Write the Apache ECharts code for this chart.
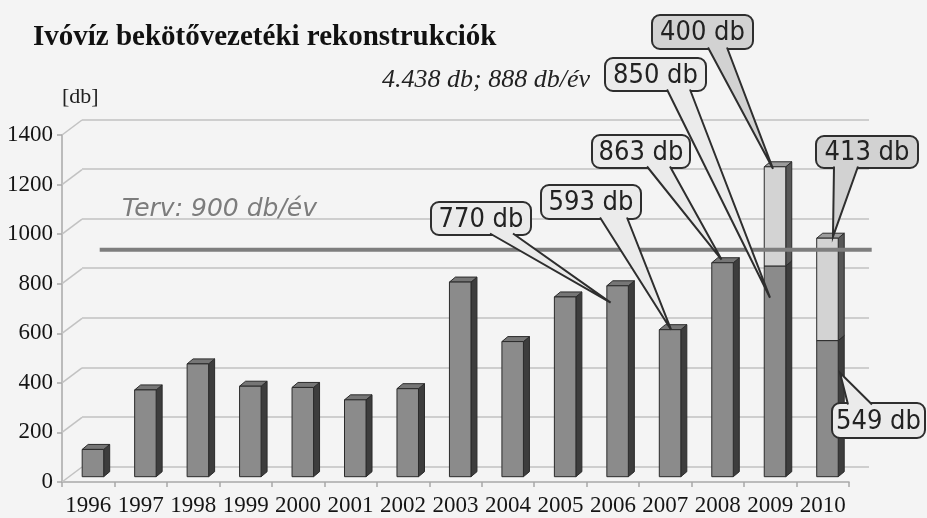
<!DOCTYPE html>
<html><head><meta charset="utf-8">
<script src="https://cdn.jsdelivr.net/npm/echarts@6/dist/echarts.min.js"></script>
<style>html,body{margin:0;padding:0;background:#f4f4f4}#c{width:927px;height:518px}</style>
</head><body><div id="c"></div>
<script>
// ---------- data ----------
const years = ['1996','1997','1998','1999','2000','2001','2002','2003','2004','2005','2006','2007','2008','2009','2010'];
const baseValues = [110, 350, 455, 365, 360, 310, 355, 785, 545, 725, 770, 593, 863, 850, 549];
const extraValues = [null, null, null, null, null, null, null, null, null, null, null, null, null, 400, 413];
const yTicks = [0, 200, 400, 600, 800, 1000, 1200, 1400];
const planValue = 915;
const planLabel = 'Terv: 900 db/év';
const titleText = 'Ivóvíz bekötővezetéki rekonstrukciók';
const subtitleText = '4.438 db; 888 db/év';
const unitText = '[db]';

// ---------- callout layout (annotation positions, not data) ----------
const callouts = [
  {year:'2006', part:'base',  tipValue:702,  tipShift:-7,   box:[431,202,100,33], join:[59,82], side:'bottom', dark:false},
  {year:'2007', part:'base',  tipValue:593,  tipShift:1,    box:[541,185,100,34], join:[59,86], side:'bottom', dark:false},
  {year:'2008', part:'base',  tipValue:876,  tipShift:-1,   box:[592,135,98,33],  join:[55,78], side:'bottom', dark:false},
  {year:'2009', part:'base',  tipValue:722,  tipShift:-5,   box:[605,58,101,33],  join:[62,85], side:'bottom', dark:false},
  {year:'2009', part:'extra', tipValue:1242, tipShift:-2,   box:[652,15,101,34],  join:[56,75], side:'bottom', dark:true},
  {year:'2010', part:'extra', tipValue:968,  tipShift:5.5,  box:[816,136,102,32], join:[18,42], side:'bottom', dark:true},
  {year:'2010', part:'base',  tipValue:419,  tipShift:12.5, box:[832,403,93,35],  join:[16,40], side:'top',    dark:false}
];

// ---------- build ----------
const barItems = [];
baseValues.forEach((v,i)=>{ barItems.push([i, 0, v, 0]); });
extraValues.forEach((v,i)=>{ if (v != null) barItems.push([i, baseValues[i], baseValues[i]+v, 1]); });

const faceColors = [
  {front:'#8b8b8b', side:'#3d3d3d', top:'#767676'},
  {front:'#d3d3d3', side:'#575757', top:'#9c9c9c'}
];
const DX = 6, DY = 5;

function renderBar(params, api){
  const i = api.value(0), b = api.value(1), t = api.value(2), seg = api.value(3);
  const p0 = api.coord([i, b]), p1 = api.coord([i, t]);
  const band = api.size([1,0])[0];
  const w = band*0.41;
  const xl = p0[0]-w/2, xr = p0[0]+w/2;
  const c = faceColors[seg];
  const stroke = '#2b2b2b';
  return {type:'group', children:[
    {type:'polygon', shape:{points:[[xr,p1[1]],[xr+DX,p1[1]-DY],[xr+DX,p0[1]-DY],[xr,p0[1]]]}, style:{fill:c.side, stroke:stroke, lineWidth:1}},
    {type:'polygon', shape:{points:[[xl,p1[1]],[xl+DX,p1[1]-DY],[xr+DX,p1[1]-DY],[xr,p1[1]]]}, style:{fill:c.top, stroke:stroke, lineWidth:1}},
    {type:'rect', shape:{x:xl, y:p1[1], width:w, height:p0[1]-p1[1]}, style:{fill:c.front, stroke:stroke, lineWidth:1}}
  ]};
}

function renderPlan(params, api){
  const v = api.value(1);
  const band = api.size([1,0])[0];
  const a = api.coord([0, v]), z = api.coord([years.length-1, v]);
  return {type:'line', shape:{x1:a[0]-band/2+33, y1:a[1], x2:z[0]+band/2+18, y2:a[1]}, style:{stroke:'#7e7e7e', lineWidth:4}};
}

function renderDiag(params, api){
  const v = api.value(1);
  const p = api.coord([0, v]);
  const x0 = p[0]-api.size([1,0])[0]/2;
  return {type:'line', shape:{x1:x0, y1:p[1], x2:x0+20, y2:p[1]-15}, style:{stroke:'#c2c2c2', lineWidth:1.5}};
}

function renderCallout(params, api){
  const i = api.value(0), tv = api.value(1), k = api.value(2);
  const c = callouts[k];
  const p = api.coord([i, tv]);
  const tip = [p[0]+c.tipShift, p[1]];
  const [bx,by,bw,bh] = c.box;
  const fill = c.dark ? '#d2d2d2' : '#ebebeb';
  const by0 = c.side === 'bottom' ? by+bh-1.5 : by+1.5;
  const j1 = [bx+c.join[0], by0], j2 = [bx+c.join[1], by0];
  const val = c.part === 'base' ? baseValues[i] : extraValues[i];
  return {type:'group', children:[
    {type:'rect', shape:{x:bx, y:by, width:bw, height:bh, r:8}, style:{fill:fill, stroke:'#2e2e2e', lineWidth:2}},
    {type:'polygon', shape:{points:[j1, tip, j2]}, style:{fill:fill}},
    {type:'polyline', shape:{points:[j1, tip, j2]}, style:{fill:null, stroke:'#2e2e2e', lineWidth:2}},
    {type:'text', style:{text: val + ' db', x:bx+bw/2, y:by+bh/2+1, align:'center', verticalAlign:'middle', textAlign:'center', textVerticalAlign:'middle', font:'27px "DejaVu Sans Condensed", "Liberation Sans Narrow", "Liberation Sans"', fill:'#222'}}
  ]};
}

const chart = echarts.init(document.getElementById('c'), null, {renderer:'canvas'});
const serif = '"Liberation Serif", "Times New Roman", serif';
chart.setOption({
  animation:false,
  backgroundColor:'#f4f4f4',
  grid:[
    {left:62, right:78, top:135, bottom:36},
    {left:66.7, right:73.3, top:129.6, bottom:41.3},
    {left:82, right:58, top:119.5, bottom:51.5}
  ],
  xAxis:[
    {gridIndex:0, type:'category', data:years, boundaryGap:true,
      axisLine:{lineStyle:{color:'#a8a8a8', width:1.5}},
      axisTick:{show:true, length:5, lineStyle:{color:'#a8a8a8', width:1.5}},
      axisLabel:{interval:0, margin:12, fontFamily:serif, fontSize:23, color:'#151515'}},
    {gridIndex:1, type:'category', data:years, show:false},
    {gridIndex:2, type:'category', data:years, show:false}
  ],
  yAxis:[
    {gridIndex:0, type:'value', min:0, max:1400, interval:200,
      axisLine:{show:true, lineStyle:{color:'#a8a8a8', width:1.5}},
      axisTick:{show:true, length:5, lineStyle:{color:'#a8a8a8', width:1.5}},
      axisLabel:{margin:9, fontFamily:serif, fontSize:23, color:'#151515', formatter:(v)=>String(v)},
      splitLine:{show:false}},
    {gridIndex:1, type:'value', min:0, max:1400, interval:200, show:false, splitLine:{show:false}},
    {gridIndex:2, type:'value', min:0, max:1400, interval:200,
      axisLine:{show:false}, axisTick:{show:false}, axisLabel:{show:false},
      splitLine:{show:true, lineStyle:{color:'#c2c2c2', width:1.5}}}
  ],
  series:[
    {type:'custom', xAxisIndex:0, yAxisIndex:0, renderItem:renderDiag, data:yTicks.map(v=>[0,v]), z:1, silent:true},
    {type:'custom', xAxisIndex:1, yAxisIndex:1, renderItem:renderBar, data:barItems, z:3, silent:true,
      encode:{x:0, y:[1,2]}},
    {type:'custom', xAxisIndex:1, yAxisIndex:1, renderItem:renderPlan, data:[[0, planValue]], z:4, silent:true},
    {type:'custom', xAxisIndex:1, yAxisIndex:1, renderItem:renderCallout, z:5, silent:true,
      data: callouts.map((c,k)=>[years.indexOf(c.year), c.tipValue, k])}
  ],
  graphic:[
    {type:'text', x:33, y:38, z:10, style:{text:titleText, font:'bold 29px '+serif, fill:'#111', verticalAlign:'middle', textVerticalAlign:'middle'}},
    {type:'text', x:382, y:80, z:10, style:{text:subtitleText, font:'italic 26px '+serif, fill:'#222', verticalAlign:'middle', textVerticalAlign:'middle'}},
    {type:'text', x:62, y:97, z:10, style:{text:unitText, font:'22px '+serif, fill:'#222', verticalAlign:'middle', textVerticalAlign:'middle'}},
    {type:'text', x:122, y:209, z:10, style:{text:planLabel, font:'italic 25px "DejaVu Sans"', fill:'#7c7c7c', verticalAlign:'middle', textVerticalAlign:'middle'}}
  ]
});
</script></body></html>
